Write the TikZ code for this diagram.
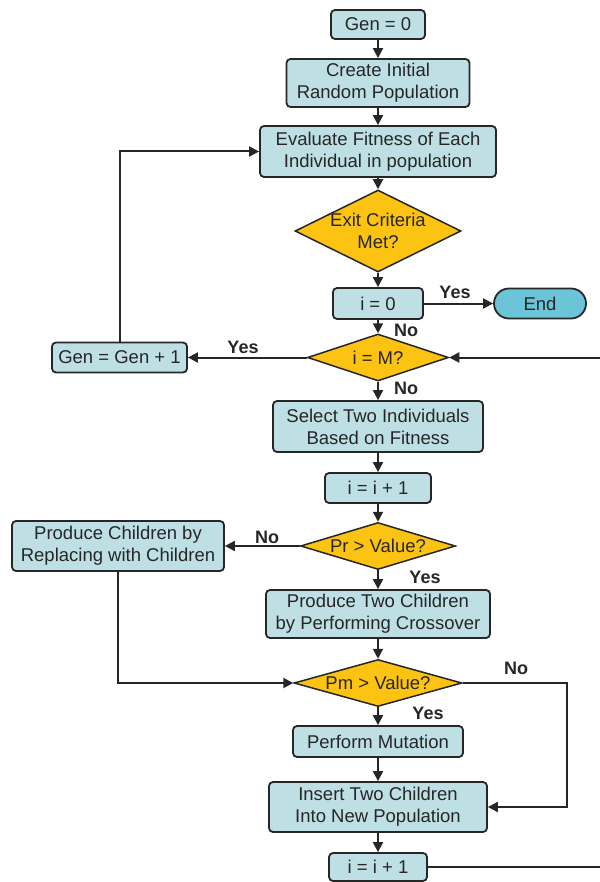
\documentclass[tikz,border=0pt]{standalone}
\usepackage{fontspec}
\setmainfont{Liberation Sans}
\definecolor{boxFill}{HTML}{BEE0E5}
\definecolor{decisionFill}{HTML}{FCC312}
\definecolor{endFill}{HTML}{6CC4D8}
\definecolor{lineDark}{HTML}{262626}
\usepackage{tikz}
\usetikzlibrary{shapes.geometric, arrows.meta}

\begin{document}
\begin{tikzpicture}[x=1pt, y=-1pt,
    font=\fontsize{18.5}{22}\selectfont,
    process/.style={draw=lineDark, fill=boxFill, line width=1.8pt, rounded corners=4pt,
                    inner sep=0pt, align=center, text=lineDark},
    decision/.style={diamond, shape aspect=2, draw=lineDark, fill=decisionFill, line width=1.5pt,
                     inner sep=-8pt, align=center, text=lineDark},
    terminal/.style={draw=lineDark, fill=endFill, line width=1.8pt, rounded corners=15pt,
                     inner sep=0pt, text=lineDark},
    answer/.style={font=\fontsize{18}{22}\selectfont\bfseries, text=lineDark},
    flow/.style={draw=lineDark, line width=2pt, -{Triangle[length=10pt,width=10pt]}}]

  \useasboundingbox (0,0) rectangle (599,882);

  % main column
  \node[process, minimum width=94, minimum height=29] (gen0) at (378,24.5) {Gen = 0};
  \node[process, minimum width=183, minimum height=48] (create) at (378,83) {Create Initial\\Random Population};
  \node[process, minimum width=236, minimum height=51] (evaluate) at (378,151.5) {Evaluate Fitness of Each\\Individual in population};
  \node[decision, minimum width=166, minimum height=82] (exit) at (378,231) {Exit Criteria\\Met?};
  \node[process, minimum width=90, minimum height=31] (izero) at (378,303.5) {i = 0};
  \node[terminal, minimum width=92, minimum height=30] (endnode) at (540,303.5) {End};
  \node[decision, minimum width=141, minimum height=47] (iM) at (378,357.5) {i = M?};
  \node[process, minimum width=135, minimum height=30] (genup) at (119.5,357.5) {Gen = Gen + 1};
  \node[process, minimum width=210, minimum height=51] (select) at (378,426.5) {Select Two Individuals\\Based on Fitness};
  \node[process, minimum width=106, minimum height=30] (incA) at (378,488) {i = i + 1};
  \node[decision, minimum width=155, minimum height=47] (pr) at (378,546) {Pr > Value?};
  \node[process, minimum width=212, minimum height=50] (replace) at (118,546) {Produce Children by\\Replacing with Children};
  \node[process, minimum width=224, minimum height=48] (cross) at (378,614) {Produce Two Children\\by Performing Crossover};
  \node[decision, minimum width=168, minimum height=47] (pm) at (378,683) {Pm > Value?};
  \node[process, minimum width=170, minimum height=31] (mutate) at (378,741.5) {Perform Mutation};
  \node[process, minimum width=218, minimum height=50] (insert) at (378,807) {Insert Two Children\\Into New Population};
  \node[process, minimum width=98, minimum height=28] (incB) at (378,867) {i = i + 1};

  % answers on the branches
  \node[answer] (yesEnd) at (455,292) {Yes};
  \node[answer] (noZero) at (406,330) {No};
  \node[answer] (yesGen) at (243,347) {Yes};
  \node[answer] (noM) at (406,388) {No};
  \node[answer] (noPr) at (267,537) {No};
  \node[answer] (yesPr) at (425,577) {Yes};
  \node[answer] (noPm) at (516,668) {No};
  \node[answer] (yesPm) at (428,713) {Yes};

  \coordinate (skip) at (567,683);
  \coordinate (loopBack) at (625,867);

  % connectors
  \draw[flow] (gen0) -- (create);
  \draw[flow] (create) -- (evaluate);
  \draw[flow] (evaluate) -- (exit);
  \draw[flow] (exit) -- (izero);
  \draw[flow] (izero) -- (endnode);
  \draw[flow] (izero) -- (iM);
  \draw[flow] (iM) -- (genup);
  \draw[flow] (genup) |- (evaluate);
  \draw[flow] (iM) -- (select);
  \draw[flow] (select) -- (incA);
  \draw[flow] (incA) -- (pr);
  \draw[flow] (pr) -- (replace);
  \draw[flow] (pr) -- (cross);
  \draw[flow] (replace) |- (pm);
  \draw[flow] (cross) -- (pm);
  \draw[flow] (pm) -- (mutate);
  \draw[flow] (pm) -- (skip) |- (insert);
  \draw[flow] (mutate) -- (insert);
  \draw[flow] (insert) -- (incB);
  \draw[flow] (incB) -- (loopBack) |- (iM);
\end{tikzpicture}
\end{document}
